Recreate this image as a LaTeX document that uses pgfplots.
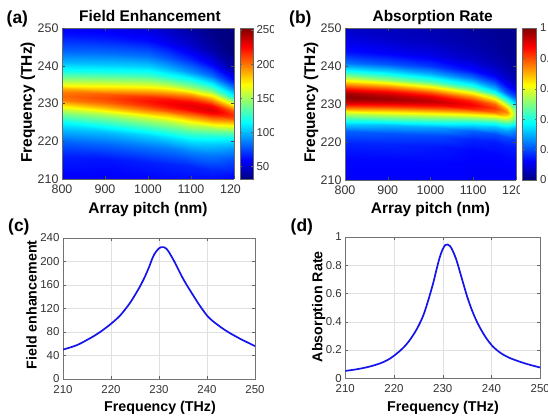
\documentclass[border=0pt]{standalone}
\usepackage{pgfplots}
\pgfplotsset{compat=1.18}
\usepackage{fontspec}
\setmainfont{Liberation Sans}

\pgfplotsset{
  /pgf/number format/assume math mode=true,
  /pgf/number format/1000 sep={},
  mapaxis/.style={
    scale only axis, view={0}{90}, colormap/jet,
    xmin=800, xmax=1200, ymin=210, ymax=250,
    xtick={800,900,1000,1100,1200}, ytick={210,220,230,240,250},
    tick align=inside, major tick length=3bp,
    tick style={black!70, line width=0.4bp},
    axis line style={black!60, line width=0.5bp},
    ticklabel style={font=\fontsize{12.5}{14}\selectfont, text=black!80},
    xticklabel style={yshift=-2bp},
    axis on top,
    colorbar,
  },
  % the colour bar already sits 0.3cm right of the axis; the shift below corrects that gap
  barstyle/.style={
    at={(parent axis.north east)}, anchor=north west,
    scale only axis,
    yticklabel style={font=\fontsize{11.5}{13}\selectfont, text=black!80},
    axis line style={black!60, line width=0.5bp},
    tick style={black!60, line width=0.4bp}, major tick length=2bp,
  },
  lineaxis/.style={
    scale only axis, xmin=210, xmax=250, xtick={210,220,230,240,250},
    grid=major, grid style={black!12, line width=0.5bp},
    axis line style={black!55, line width=0.6bp},
    tick align=inside, major tick length=3bp,
    tick style={black!60, line width=0.4bp},
    ticklabel style={font=\fontsize{11.5}{13}\selectfont, text=black!80},
    xticklabel style={yshift=-3bp},
  },
}
\definecolor{curveblue}{RGB}{20,20,235}

\begin{document}
\begin{tikzpicture}
\useasboundingbox (0,0) rectangle (548bp,418bp);

% (a) field enhancement map: pitch, frequency, enhancement
\begin{scope}
\clip (0,0) rectangle (273bp,418bp);
\begin{axis}[mapaxis, at={(62bp,239bp)}, anchor=south west,
  width=172bp, height=151bp,
  point meta min=32, point meta max=253,
  colorbar style={barstyle, height=151bp, width=13bp, xshift=-2.5bp,
    ytick={50,100,150,200,250}}]
\addplot3[surf, shader=interp, mesh/rows=21, mesh/cols=7] coordinates {
(800,210,58) (900,210,58) (1000,210,60) (1050,210,61) (1100,210,62) (1150,210,62) (1200,210,60)
(800,216,66) (900,215.4,64) (1000,214.6,66) (1050,214.1,67) (1100,213.4,68) (1150,212.4,68) (1200,211,62)
(800,220,82) (900,219.4,82) (1000,218.6,85) (1050,218.1,87) (1100,217.4,89) (1150,216.4,86) (1200,215,76)
(800,223,100) (900,222.4,101) (1000,221.6,106) (1050,221.1,109) (1100,220.4,111) (1150,219.4,104) (1200,218,92)
(800,225,116) (900,224.4,120) (1000,223.6,126) (1050,223.1,129) (1100,222.4,132) (1150,221.4,122) (1200,220,108)
(800,227,138) (900,226.4,143) (1000,225.6,151) (1050,225.1,154) (1100,224.4,157) (1150,223.4,150) (1200,222,130)
(800,228,152) (900,227.4,158) (1000,226.6,166) (1050,226.1,170) (1100,225.4,173) (1150,224.4,168) (1200,223,148)
(800,229,168) (900,228.4,174) (1000,227.6,184) (1050,227.1,188) (1100,226.4,192) (1150,225.4,188) (1200,224,168)
(800,230,185) (900,229.4,191) (1000,228.6,202) (1050,228.1,207) (1100,227.4,210) (1150,226.4,208) (1200,225,188)
(800,231,198) (900,230.4,205) (1000,229.6,216) (1050,229.1,221) (1100,228.4,225) (1150,227.4,226) (1200,226,206)
(800,232,203) (900,231.4,210) (1000,230.6,222) (1050,230.1,227) (1100,229.4,231) (1150,228.4,233) (1200,227,215)
(800,233,198) (900,232.4,205) (1000,231.6,216) (1050,231.1,221) (1100,230.4,224) (1150,229.4,226) (1200,228,205)
(800,234,185) (900,233.4,191) (1000,232.6,202) (1050,232.1,207) (1100,231.4,208) (1150,230.4,206) (1200,229,182)
(800,235,168) (900,234.4,174) (1000,233.6,184) (1050,233.1,188) (1100,232.4,188) (1150,231.4,184) (1200,230,158)
(800,236,152) (900,235.4,158) (1000,234.6,166) (1050,234.1,168) (1100,233.4,166) (1150,232.4,162) (1200,231,136)
(800,237,138) (900,236.4,143) (1000,235.6,151) (1050,235.1,150) (1100,234.4,146) (1150,233.4,142) (1200,232,115)
(800,239,116) (900,238.4,120) (1000,237.6,126) (1050,237.1,122) (1100,236.4,116) (1150,235.4,110) (1200,234,86)
(800,241,99) (900,240.4,102) (1000,239.6,106) (1050,239.1,100) (1100,238.4,92) (1150,237.4,84) (1200,236,64)
(800,244,81) (900,243.4,83) (1000,242.6,84) (1050,242.1,78) (1100,241.4,68) (1150,240.4,58) (1200,239,42)
(800,248,64) (900,247.4,64) (1000,246.6,62) (1050,246.1,56) (1100,245.4,48) (1150,244.4,40) (1200,243,32)
(800,250,58) (900,250,56) (1000,250,52) (1050,250,46) (1100,250,40) (1150,250,33) (1200,250,31)
};
\end{axis}
\end{scope}

% (b) absorption map
\begin{axis}[mapaxis, at={(345bp,238bp)}, anchor=south west,
  width=171bp, height=152bp,
  point meta min=0, point meta max=1,
  colorbar style={barstyle, height=152bp, width=14bp, xshift=-2bp,
    ytick={0,0.2,0.4,0.6,0.8,1}}]
\addplot3[surf, shader=interp, mesh/rows=21, mesh/cols=7] coordinates {
(800,210,0.12) (900,210,0.12) (1000,210,0.12) (1100,210,0.12) (1150,210,0.12) (1180,210,0.12) (1200,210,0.12)
(800,215.8,0.13) (900,215.4,0.13) (1000,214.9,0.13) (1100,213.8,0.12) (1150,213,0.12) (1180,212,0.12) (1200,211.6,0.12)
(800,219.8,0.16) (900,219.4,0.16) (1000,218.9,0.15) (1100,217.8,0.13) (1150,217,0.13) (1180,216,0.13) (1200,215.6,0.13)
(800,222.8,0.22) (900,222.4,0.21) (1000,221.9,0.20) (1100,220.8,0.16) (1150,220,0.15) (1180,219,0.15) (1200,218.6,0.15)
(800,224.8,0.33) (900,224.4,0.31) (1000,223.9,0.29) (1100,222.8,0.22) (1150,222,0.20) (1180,221,0.19) (1200,220.6,0.18)
(800,226.8,0.50) (900,226.4,0.48) (1000,225.9,0.45) (1100,224.8,0.36) (1150,224,0.31) (1180,223,0.28) (1200,222.6,0.24)
(800,227.8,0.60) (900,227.4,0.58) (1000,226.9,0.55) (1100,225.8,0.46) (1150,225,0.40) (1180,224,0.35) (1200,223.6,0.29)
(800,228.8,0.72) (900,228.4,0.70) (1000,227.9,0.67) (1100,226.8,0.58) (1150,226,0.52) (1180,225,0.45) (1200,224.6,0.35)
(800,229.8,0.85) (900,229.4,0.83) (1000,228.9,0.80) (1100,227.8,0.72) (1150,227,0.65) (1180,226,0.57) (1200,225.6,0.42)
(800,230.8,0.95) (900,230.4,0.93) (1000,229.9,0.90) (1100,228.8,0.83) (1150,228,0.77) (1180,227,0.68) (1200,226.6,0.48)
(800,231.8,0.99) (900,231.4,0.97) (1000,230.9,0.94) (1100,229.8,0.88) (1150,229,0.82) (1180,228,0.74) (1200,227.6,0.50)
(800,232.8,0.96) (900,232.4,0.94) (1000,231.9,0.90) (1100,230.8,0.84) (1150,230,0.77) (1180,229,0.67) (1200,228.6,0.46)
(800,233.8,0.89) (900,233.4,0.86) (1000,232.9,0.81) (1100,231.8,0.74) (1150,231,0.66) (1180,230,0.54) (1200,229.6,0.38)
(800,234.8,0.78) (900,234.4,0.75) (1000,233.9,0.69) (1100,232.8,0.63) (1150,232,0.53) (1180,231,0.41) (1200,230.6,0.30)
(800,235.8,0.67) (900,235.4,0.63) (1000,234.9,0.57) (1100,233.8,0.51) (1150,233,0.41) (1180,232,0.30) (1200,231.6,0.22)
(800,236.8,0.56) (900,236.4,0.52) (1000,235.9,0.46) (1100,234.8,0.40) (1150,234,0.31) (1180,233,0.22) (1200,232.6,0.16)
(800,238.8,0.39) (900,238.4,0.35) (1000,237.9,0.30) (1100,236.8,0.24) (1150,236,0.18) (1180,235,0.12) (1200,234.6,0.09)
(800,240.8,0.24) (900,240.4,0.21) (1000,239.9,0.18) (1100,238.8,0.14) (1150,238,0.10) (1180,237,0.07) (1200,236.6,0.05)
(800,243.8,0.14) (900,243.4,0.12) (1000,242.9,0.10) (1100,241.8,0.07) (1150,241,0.05) (1180,240,0.04) (1200,239.6,0.03)
(800,247.8,0.09) (900,247.4,0.07) (1000,246.9,0.06) (1100,245.8,0.04) (1150,245,0.03) (1180,244,0.02) (1200,243.6,0.02)
(800,250,0.07) (900,250,0.06) (1000,250,0.05) (1100,250,0.03) (1150,250,0.02) (1180,250,0.02) (1200,250,0.02)
};
\end{axis}

% the colour bars hide the end of the last pitch label
\fill[white] (240.5bp,217bp) rectangle (272bp,236.5bp);
\fill[white] (519.5bp,217bp) rectangle (537bp,235.5bp);

% (c) field enhancement spectrum
\begin{axis}[lineaxis, at={(63bp,39bp)}, anchor=south west,
  width=192bp, height=141bp, ymin=0, ymax=240, ytick={0,40,80,120,160,200,240}]
\addplot[curveblue, line width=1.7bp, smooth] coordinates {
(210,50) (211,52.5) (212,55) (213,58) (214,62) (215,66.5) (216,71) (217,76)
(218,81.5) (219,87.5) (220,94) (221,101) (222,109) (223,119) (224,130) (225,143)
(226,157) (227,173) (228,192) (228.5,203) (229,212) (229.5,218) (230,222.5)
(230.5,224.5) (231,224.5) (231.5,222) (232,217) (232.5,210) (233,203) (234,187)
(235,171) (236,157) (237,144) (238,131) (239,119) (240,108) (241,100) (242,93.5)
(243,87.5) (244,82) (245,77) (246,72.5) (247,68) (248,64) (249,60) (250,56)
};
\end{axis}

% (d) absorption spectrum
\begin{axis}[lineaxis, at={(345.3bp,39.7bp)}, anchor=south west,
  width=195bp, height=141.3bp, ymin=0, ymax=1, ytick={0,0.2,0.4,0.6,0.8,1}]
\addplot[curveblue, line width=1.7bp, smooth] coordinates {
(210,0.052) (211,0.057) (212,0.062) (213,0.068) (214,0.075) (215,0.083) (216,0.093)
(217,0.104) (218,0.118) (219,0.136) (220,0.16) (221,0.188) (222,0.22) (223,0.26)
(224,0.31) (225,0.37) (226,0.445) (227,0.55) (228,0.67) (228.5,0.74) (229,0.81)
(229.5,0.87) (230,0.915) (230.5,0.943) (231,0.947) (231.5,0.935) (232,0.905)
(232.5,0.865) (233,0.815) (234,0.695) (235,0.578) (236,0.48) (237,0.40) (238,0.335)
(239,0.28) (240,0.235) (241,0.202) (242,0.176) (243,0.156) (244,0.14) (245,0.127)
(246,0.115) (247,0.104) (248,0.094) (249,0.085) (250,0.076)
};
\end{axis}

% titles, axis labels and panel letters
\begin{scope}[every node/.style={font=\bfseries\fontsize{15.5}{17}\selectfont, inner sep=0pt}]
\node[anchor=base] at (150bp,396.3bp) {Field Enhancement};
\node[anchor=base] at (432.7bp,396.3bp) {Absorption Rate};
\node[anchor=base] at (148bp,204bp) {Array pitch (nm)};
\node[anchor=base] at (430.5bp,204bp) {Array pitch (nm)};
\node[anchor=base, rotate=90] at (31.8bp,315.5bp) {Frequency (THz)};
\node[anchor=base, rotate=90] at (315bp,315.5bp) {Frequency (THz)};
\end{scope}
\begin{scope}[every node/.style={font=\bfseries\fontsize{14.3}{16}\selectfont, inner sep=0pt}]
\node[anchor=base] at (160bp,7bp) {Frequency (THz)};
\node[anchor=base] at (443bp,7bp) {Frequency (THz)};
\node[anchor=base, rotate=90] at (36.7bp,113bp) {Field enhancement};
\node[anchor=base, rotate=90] at (322.4bp,111.3bp) {Absorption Rate};
\end{scope}
\begin{scope}[every node/.style={font=\bfseries\fontsize{17.5}{19}\selectfont, inner sep=0pt, anchor=base west}]
\node at (6.5bp,394.7bp) {(a)};
\node at (289bp,394.7bp) {(b)};
\node at (8bp,186.3bp) {(c)};
\node at (290.5bp,186.3bp) {(d)};
\end{scope}
\end{tikzpicture}
\end{document}
